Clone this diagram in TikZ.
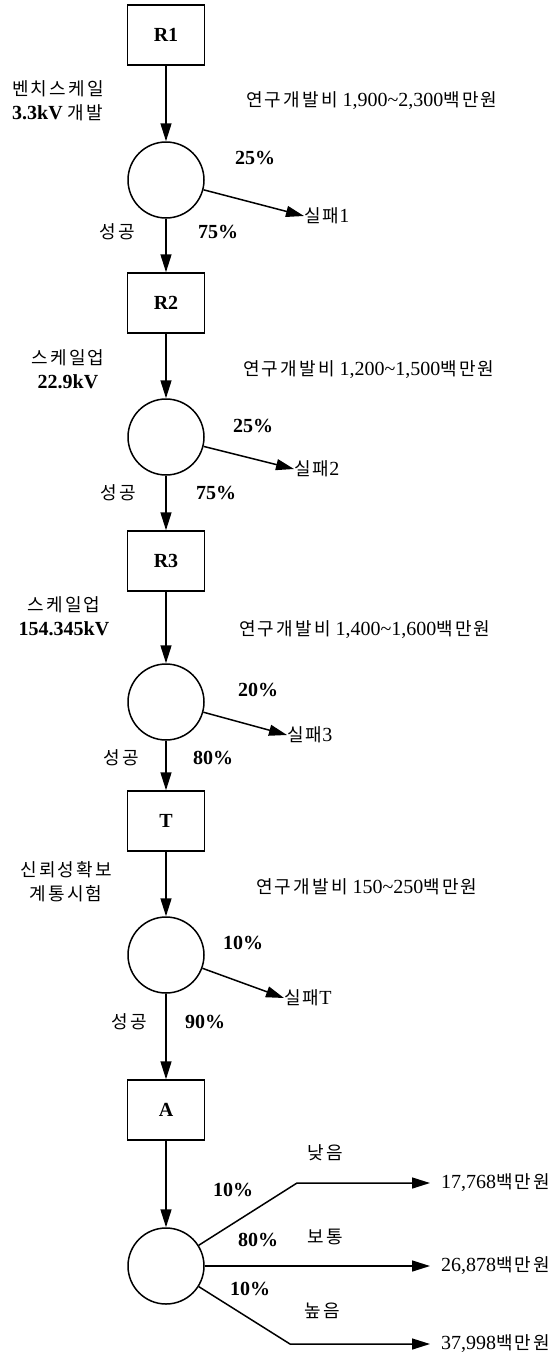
\documentclass[tikz,border=0pt]{standalone}
\usepackage{fontspec}
\setmainfont{Liberation Serif}
\newfontfamily\ko{Noto Sans CJK KR}[Scale=0.9, LetterSpace=12]
\usetikzlibrary{arrows.meta}
\newcommand\K[1]{{\ko\mdseries #1}}
\newcommand\tl{\textasciitilde}

\begin{document}
\begin{tikzpicture}[x=1pt,y=-1pt,
  txt/.style={inner sep=0pt, font=\fontsize{20}{24}\selectfont},
  bold/.style={inner sep=0pt, font=\fontsize{20}{24}\selectfont\bfseries},
  stage/.style={draw, line width=1.5pt, minimum width=77pt, minimum height=60pt,
                inner sep=0pt, font=\fontsize{20}{24}\selectfont\bfseries},
  chance/.style={draw, circle, line width=1.5pt, minimum size=76pt, inner sep=0pt},
  arr/.style={line width=1.5pt, -{Triangle[length=18pt,width=11pt]}},
]
\useasboundingbox (0,0) rectangle (557,1357);

% main chain of stages and chance nodes
\node[stage]  (R1) at (166,35)   {R1};
\node[chance] (C1) at (166,180)  {};
\node[stage]  (R2) at (166,303)  {R2};
\node[chance] (C2) at (166,437)  {};
\node[stage]  (R3) at (166,561)  {R3};
\node[chance] (C3) at (166,702)  {};
\node[stage]  (T)  at (166,821)  {T};
\node[chance] (C4) at (166,955)  {};
\node[stage]  (A)  at (166,1110) {A};
\node[chance] (C5) at (166,1266) {};

\draw[arr] (R1) -- (C1);
\draw[arr] (C1) -- (R2);
\draw[arr] (R2) -- (C2);
\draw[arr] (C2) -- (R3);
\draw[arr] (R3) -- (C3);
\draw[arr] (C3) -- (T);
\draw[arr] (T)  -- (C4);
\draw[arr] (C4) -- (A);
\draw[arr] (A)  -- (C5);

% stage descriptions
\node[bold, align=left, anchor=west] (L1) at (12,101) {\K{벤치스케일}\\3.3kV \K{개발}};
\node[bold, align=center] (L2) at (68,369) {\K{스케일업}\\22.9kV};
\node[bold, align=center] (L3) at (64,616) {\K{스케일업}\\154.345kV};
\node[bold, align=center] (L4) at (66,882) {\K{신뢰성확보}\\\K{계통시험}};

% development costs
\node[txt, anchor=west] (D1) at (246,101) {\K{연구개발비} 1,900\tl 2,300\K{백만원}};
\node[txt, anchor=west] (D2) at (243,370) {\K{연구개발비} 1,200\tl 1,500\K{백만원}};
\node[txt, anchor=west] (D3) at (239,630) {\K{연구개발비} 1,400\tl 1,600\K{백만원}};
\node[txt, anchor=west] (D4) at (256,887) {\K{연구개발비} 150\tl 250\K{백만원}};

% failure branches
\node[txt, anchor=west] (F1) at (304,216) {\K{실패}1};
\node[txt, anchor=west] (F2) at (294,469) {\K{실패}2};
\node[txt, anchor=west] (F3) at (287,735) {\K{실패}3};
\node[txt, anchor=west] (F4) at (284,998) {\K{실패}T};
\draw[arr] (C1) -- (F1.west);
\draw[arr] (C2) -- (F2.west);
\draw[arr] (C3) -- (F3.west);
\draw[arr] (C4) -- (F4.west);

% probabilities
\node[bold] (p1f) at (255,158) {25\%};
\node[bold] (p1s) at (218,232) {75\%};
\node[txt]  (s1)  at (117,232) {\K{성공}};
\node[bold] (p2f) at (253,426) {25\%};
\node[bold] (p2s) at (216,493) {75\%};
\node[txt]  (s2)  at (118,493) {\K{성공}};
\node[bold] (p3f) at (258,690) {20\%};
\node[bold] (p3s) at (213,758) {80\%};
\node[txt]  (s3)  at (121,758) {\K{성공}};
\node[bold] (p4f) at (243,943) {10\%};
\node[bold] (p4s) at (205,1022) {90\%};
\node[txt]  (s4)  at (129,1022) {\K{성공}};

% market outcomes
\coordinate (b1) at (297,1183);
\coordinate (b3) at (290,1344);
\node[txt, anchor=west] (V1) at (441,1183) {17,768\K{백만원}};
\node[txt, anchor=west] (V2) at (441,1266) {26,878\K{백만원}};
\node[txt, anchor=west] (V3) at (441,1344) {37,998\K{백만원}};
\draw[arr] (C5) -- (b1) -- ([xshift=-11pt]V1.west);
\draw[arr] (C5) -- ([xshift=-11pt]V2.west);
\draw[arr] (C5) -- (b3) -- ([xshift=-11pt]V3.west);

\node[txt]  (m1) at (325,1153) {\K{낮음}};
\node[bold] (q1) at (233,1190) {10\%};
\node[txt]  (m2) at (325,1237) {\K{보통}};
\node[bold] (q2) at (258,1240) {80\%};
\node[txt]  (m3) at (322,1311) {\K{높음}};
\node[bold] (q3) at (250,1289) {10\%};
\end{tikzpicture}
\end{document}
